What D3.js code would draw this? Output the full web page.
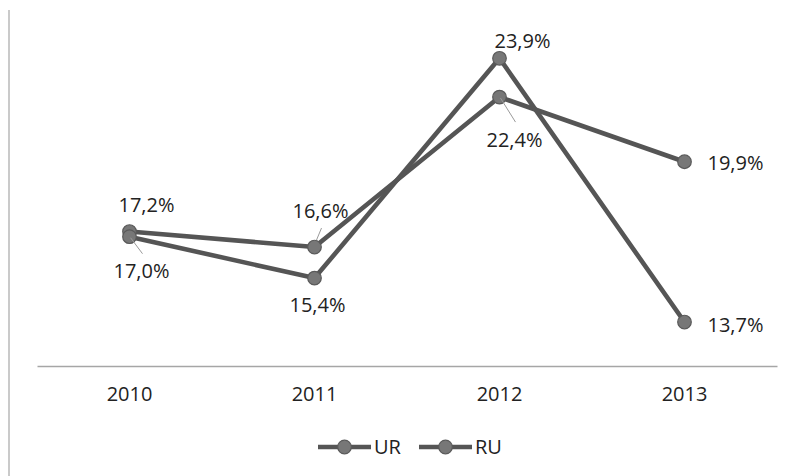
<!DOCTYPE html>
<html><head><meta charset="utf-8">
<script src="https://cdn.jsdelivr.net/npm/d3@7"></script>
<style>body{margin:0;background:#fff}svg{display:block}text{font-family:"Open Sans",sans-serif}</style>
</head><body><svg id="c" width="791" height="476"></svg>
<script>
const categories = ["2010","2011","2012","2013"];
const seriesNames = ["UR","RU"];
const urValues = [17.2,16.6,22.4,19.9];
const ruValues = [17.0,15.4,23.9,13.7];
const yDomain = [12,26];

// label placement (dx, dy from point to label baseline centre; leader end) — styling only
const labelPos = {
  UR: [{dx:17,dy:-20},{dx:6,dy:-29,lead:[2,-7,7,-19]},{dx:15,dy:50,lead:[1,1,16,25]},{dx:51,dy:8}],
  RU: [{dx:12,dy:41,lead:[1,1,13,17]},{dx:3,dy:34},{dx:23,dy:-10},{dx:51,dy:10}]
};

const svg = d3.select("#c");
const x = d3.scaleBand().domain(categories).range([37,777]);
const y = d3.scaleLinear().domain(yDomain).range([366,4]);
const cx = d => x(d)+x.bandwidth()/2;

svg.append("line").attr("x1",9).attr("x2",9).attr("y1",10).attr("y2",476)
  .attr("stroke","#cacaca").attr("stroke-width",2);

const ax = svg.append("g").attr("transform","translate(0,366)")
  .call(d3.axisBottom(x).tickSize(0).tickPadding(21));
ax.select(".domain").attr("stroke","#a6a6a6").attr("stroke-width",1.3);
ax.selectAll("text").attr("font-size",20).attr("fill","#222").attr("font-family","Open Sans");

const series = [{name:"UR",values:urValues},{name:"RU",values:ruValues}];
const line = d3.line().x((d,i)=>cx(categories[i])).y(d=>y(d));

series.forEach(s=>{
  svg.append("path").datum(s.values).attr("d",line).attr("fill","none")
    .attr("stroke","#555").attr("stroke-width",4.6).attr("stroke-linejoin","round");
});
series.forEach(s=>{
  svg.selectAll(null).data(s.values).enter().append("circle")
    .attr("cx",(d,i)=>cx(categories[i])).attr("cy",d=>y(d)).attr("r",6.8)
    .attr("fill","#777").attr("stroke","#5a5a5a").attr("stroke-width",1.2);
});
series.forEach(s=>{
  s.values.forEach((v,i)=>{
    const p = labelPos[s.name][i];
    const px = cx(categories[i]), py = y(v);
    if(p.lead){
      svg.append("line").attr("x1",px+p.lead[0]).attr("y1",py+p.lead[1])
        .attr("x2",px+p.lead[2]).attr("y2",py+p.lead[3])
        .attr("stroke","#9a9a9a").attr("stroke-width",1);
    }
    svg.append("text").attr("x",px+p.dx).attr("y",py+p.dy).attr("text-anchor","middle")
      .attr("font-size",20).attr("fill","#222")
      .text(d3.format(".1f")(v).replace(".",",")+"%");
  });
});

// legend
const lg = svg.append("g");
const legendX = [318,419];
series.forEach((s,i)=>{
  const g = lg.append("g").attr("transform",`translate(${legendX[i]},447)`);
  g.append("line").attr("x1",0).attr("x2",53).attr("stroke","#555").attr("stroke-width",4.6);
  g.append("circle").attr("cx",26.5).attr("r",6.8).attr("fill","#777").attr("stroke","#5a5a5a").attr("stroke-width",1.2);
  g.append("text").attr("x",56).attr("y",7).attr("font-size",20).attr("fill","#222").text(s.name);
});
</script></body></html>
